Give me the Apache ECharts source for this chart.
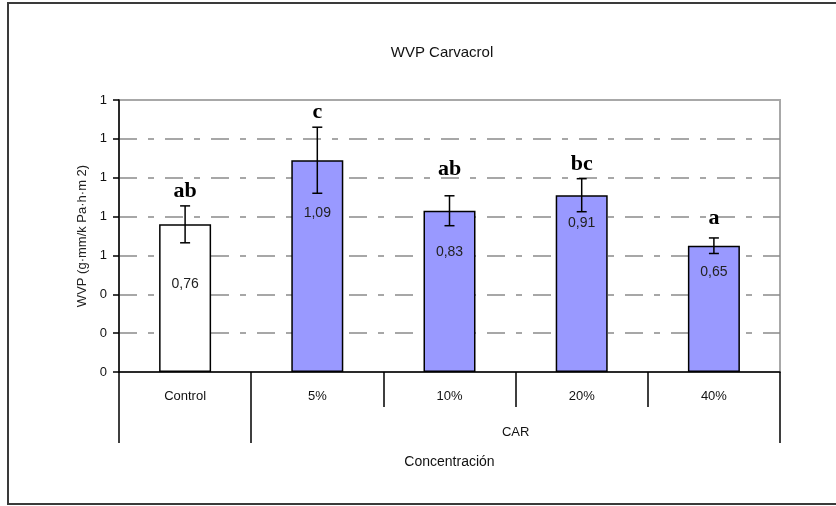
<!DOCTYPE html>
<html>
<head>
<meta charset="utf-8">
<script src="https://cdn.jsdelivr.net/npm/echarts@6/dist/echarts.min.js"></script>
<style>
  html, body { margin: 0; padding: 0; background: #fff; }
  #chart { width: 836px; height: 506px; }
</style>
</head>
<body>
<div id="chart"></div>
<script>
// Water vapour permeability by carvacrol concentration
const categories = ['Control', '5%', '10%', '20%', '40%'];
const wvpMean = [0.76, 1.09, 0.83, 0.91, 0.65];
const wvpSd = [0.095, 0.17, 0.077, 0.085, 0.04];
const valueLabels = ['0,76', '1,09', '0,83', '0,91', '0,65'];
const groupLetters = ['ab', 'c', 'ab', 'bc', 'a'];
const yTickLabels = ['0', '0', '0', '1', '1', '1', '1', '1'];
const groupName = 'CAR';

// per-bar styling: fill colour, how far the value text sits below the bar top,
// and how far the letter sits above the error-bar cap
const barColors = ['#ffffff', '#9999ff', '#9999ff', '#9999ff', '#9999ff'];
const valueDrop = [60, 53, 41, 28, 26];
const letterLift = [15, 15, 26, 14, 20];

const SANS = 'Liberation Sans, Arial';

const chart = echarts.init(document.getElementById('chart'), null, { renderer: 'canvas' });

const barData = wvpMean.map((v, i) => ({
  value: v,
  itemStyle: { color: barColors[i] },
  label: { offset: [0, valueDrop[i] - 7] }
}));

const errData = wvpMean.map((v, i) => [i, v - wvpSd[i], v + wvpSd[i]]);

const option = {
  animation: false,
  backgroundColor: '#ffffff',
  title: {
    text: 'WVP Carvacrol',
    left: 437,
    top: 40,
    textAlign: 'center',
    textStyle: { fontFamily: SANS, fontSize: 15, fontWeight: 'normal', color: '#111' }
  },
  graphic: [{
    type: 'rect',
    shape: { x: 8, y: 3, width: 840, height: 501 },
    style: { fill: null, stroke: '#3a3a3a', lineWidth: 2 },
    silent: true
  }],
  grid: { left: 119, right: 56, top: 100, bottom: 134, show: true, borderColor: '#a8a8a8', borderWidth: 2 },
  xAxis: [{
    type: 'category',
    data: categories,
    position: 'bottom',
    axisLine: { lineStyle: { color: '#000', width: 1.5 } },
    axisTick: { show: true, interval: 0, length: 35, alignWithLabel: false, lineStyle: { color: '#000', width: 1.5 } },
    axisLabel: { interval: 0, margin: 18, fontFamily: SANS, fontSize: 13, color: '#111' },
    splitLine: { show: false }
  }, {
    type: 'value',
    min: 0,
    max: 5,
    position: 'bottom',
    offset: 0,
    axisLine: { show: false },
    axisTick: { show: true, customValues: [0, 1, 5], length: 71, lineStyle: { color: '#000', width: 1.5 } },
    axisLabel: {
      show: true, customValues: [3], margin: 54,
      formatter: () => groupName,
      fontFamily: SANS, fontSize: 13, color: '#111'
    },
    splitLine: { show: false },
    name: 'Concentración',
    nameLocation: 'middle',
    nameGap: 83,
    nameTextStyle: { fontFamily: SANS, fontSize: 14, color: '#111' }
  }],
  yAxis: {
    type: 'value',
    min: 0,
    max: 1.4,
    interval: 0.2,
    name: 'WVP (g·mm/k Pa·h·m 2)',
    nameLocation: 'middle',
    nameGap: 30,
    nameTextStyle: { fontFamily: SANS, fontSize: 13, color: '#222' },
    axisLine: { show: true, lineStyle: { color: '#000', width: 1.5 } },
    axisTick: { show: true, length: 6, inside: false, lineStyle: { color: '#000', width: 1.5 } },
    axisLabel: {
      margin: 12,
      fontFamily: SANS, fontSize: 13, color: '#111',
      formatter: (v) => yTickLabels[Math.round(v / 0.2)]
    },
    splitLine: {
      show: true, showMinLine: false, showMaxLine: false,
      lineStyle: { color: '#8a8a8a', width: 1.5, type: [18, 11, 6, 11] }
    }
  },
  series: [{
    type: 'bar',
    data: barData,
    barWidth: 52,
    itemStyle: { borderColor: '#000', borderWidth: 1.5 },
    label: {
      show: true,
      position: 'insideTop',
      distance: 0,
      formatter: (p) => valueLabels[p.dataIndex],
      fontFamily: SANS, fontSize: 14, color: '#222'
    },
    z: 2
  }, {
    type: 'custom',
    data: errData,
    z: 5,
    renderItem: function (params, api) {
      const i = api.value(0);
      const lo = api.coord([i, api.value(1)]);
      const hi = api.coord([i, api.value(2)]);
      const cap = 5;
      const stroke = { stroke: '#000', lineWidth: 1.5 };
      return {
        type: 'group',
        children: [
          { type: 'line', shape: { x1: hi[0], y1: hi[1], x2: lo[0], y2: lo[1] }, style: stroke },
          { type: 'line', shape: { x1: hi[0] - cap, y1: hi[1], x2: hi[0] + cap, y2: hi[1] }, style: stroke },
          { type: 'line', shape: { x1: lo[0] - cap, y1: lo[1], x2: lo[0] + cap, y2: lo[1] }, style: stroke },
          {
            type: 'text',
            x: hi[0],
            y: hi[1] - letterLift[i],
            style: {
              text: groupLetters[i],
              align: 'center',
              verticalAlign: 'middle',
              fontFamily: 'Liberation Serif, Times New Roman',
              fontSize: 22,
              fontWeight: 'bold',
              fill: '#000'
            }
          }
        ]
      };
    }
  }]
};

chart.setOption(option);
</script>
</body>
</html>
